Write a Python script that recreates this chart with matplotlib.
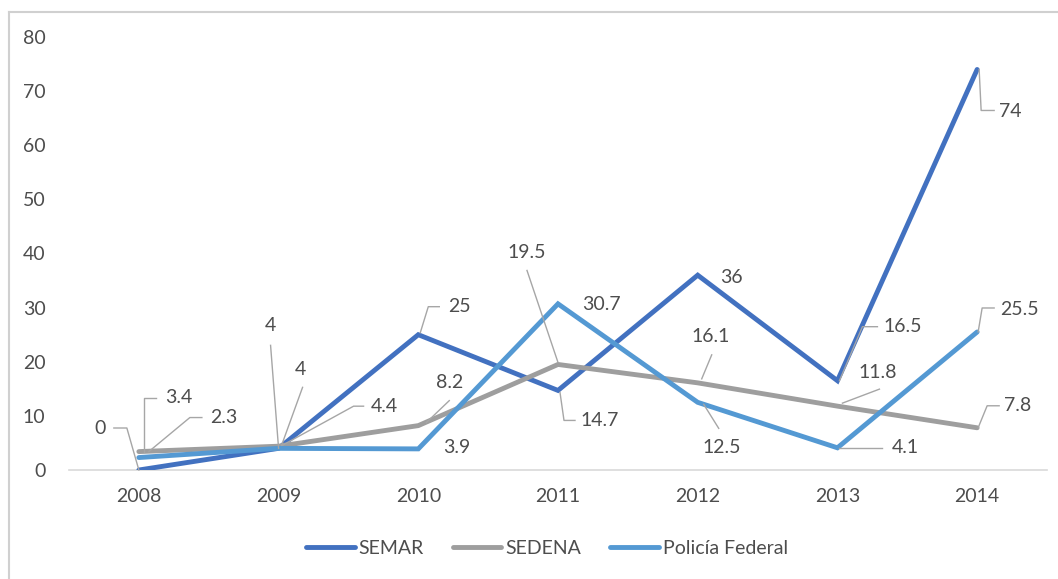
import numpy as np
import matplotlib
matplotlib.use("Agg")
import matplotlib.pyplot as plt
from matplotlib.lines import Line2D
from matplotlib.transforms import IdentityTransform

plt.rcParams['font.family'] = ['Lato', 'DejaVu Sans']

years = ['2008', '2009', '2010', '2011', '2012', '2013', '2014']
series_names = ['SEMAR', 'SEDENA', 'Policía Federal']
semar = [0, 4, 25, 14.7, 36, 16.5, 74]
sedena = [3.4, 4.4, 8.2, 19.5, 16.1, 11.8, 7.8]
policia = [2.3, 4, 3.9, 30.7, 12.5, 4.1, 25.5]
yticks = [0, 10, 20, 30, 40, 50, 60, 70, 80]

colors = ['#4271C0', '#9E9E9E', '#5499D3']
text_color = '#4D4D4D'
leader_color = '#A6A6A6'

# label placement, in image pixels (y down) relative to the point:
# (text offset, leader vertices)
label_layout = {
    (0, 0): ((-39, -42), [(0, 0), (-12, -42), (-25, -42)]),
    (0, 1): ((-8, -123), [(0, 0), (-8, -103)]),
    (0, 2): ((41, -28), [(2, -2), (10, -28), (21, -28)]),
    (0, 3): ((42, 30), [(2, 2), (6, 30), (17, 30)]),
    (0, 4): ((34, 2), None),
    (0, 5): ((65, -54), [(2, 0), (25, -54), (40, -54)]),
    (0, 6): ((33, 42), [(2, 0), (4, 41), (17, 41)]),
    (1, 0): ((40, -54), [(5, 0), (5, -54), (17, -54)]),
    (1, 1): ((106, -40), [(4, -1), (75, -40), (85, -40)]),
    (1, 2): ((31, -43), [(8, -3), (31, -25)]),
    (1, 3): ((-31, -112), [(0, -2), (-31, -94)]),
    (1, 4): ((13, -46), [(4, -4), (14, -28)]),
    (1, 5): ((40, -34), [(5, -3), (42, -17)]),
    (1, 6): ((40, -22), [(1, 0), (10, -22), (22, -22)]),
    (2, 0): ((85, -40), [(10, -6), (51, -40), (63, -40)]),
    (2, 1): ((22, -79), [(3, -3), (24, -61)]),
    (2, 2): ((38, -1), None),
    (2, 3): ((43, 1), None),
    (2, 4): ((24, 45), [(6, 2), (21, 26)]),
    (2, 5): ((68, 0), [(2, 0), (45, 0)]),
    (2, 6): ((42, -22), [(1, 0), (5, -24), (17, -24)]),
}

fig = plt.figure(figsize=(10.58, 5.79), dpi=100)
ax = fig.add_axes([69 / 1058, 1 - 470 / 579, (1047 - 69) / 1058, (470 - 37) / 579])

x = np.arange(len(years))
all_series = [semar, sedena, policia]
for name, vals, c in zip(series_names, all_series, colors):
    ax.plot(x, vals, color=c, lw=3.5, label=name, solid_capstyle='round',
            solid_joinstyle='miter', zorder=3)

ax.set_xlim(-0.5, len(years) - 0.5)
ax.set_ylim(0, 80)
ax.set_yticks(yticks)
ax.set_xticks(x)
ax.set_xticklabels(years)
ax.tick_params(axis='both', length=0, labelsize=14, colors=text_color)
ax.tick_params(axis='y', pad=17)
ax.tick_params(axis='x', pad=13)
for s in ['top', 'right', 'left']:
    ax.spines[s].set_visible(False)
ax.spines['bottom'].set_color('#D9D9D9')
ax.spines['bottom'].set_linewidth(1.2)

# data labels with leader lines
for (si, yi), (toff, leader) in label_layout.items():
    val = all_series[si][yi]
    px, py = ax.transData.transform((x[yi], val))
    if leader:
        xs = [px + dx for dx, dy in leader]
        ys = [py - dy for dx, dy in leader]
        fig.add_artist(Line2D(xs, ys, transform=IdentityTransform(),
                              color=leader_color, lw=1.0, zorder=4))
    ax.annotate(f"{val:g}", xy=(x[yi], val), xytext=(toff[0], -toff[1]),
                textcoords='offset pixels', ha='center', va='center',
                fontsize=14, color=text_color, zorder=5)

leg = fig.legend(loc='center', bbox_to_anchor=(547 / 1058, 1 - 548 / 579), ncol=3,
                 frameon=False, fontsize=14, handlelength=2.5, handletextpad=0.2,
                 columnspacing=1.5)
for t in leg.get_texts():
    t.set_color(text_color)

# outer chart border (top and left visible)
fig.add_artist(Line2D([9 / 1058, 1], [1 - 12 / 579, 1 - 12 / 579],
                      transform=fig.transFigure, color='#D0D0D0', lw=1.5))
fig.add_artist(Line2D([9 / 1058, 9 / 1058], [0, 1 - 12 / 579],
                      transform=fig.transFigure, color='#D0D0D0', lw=1.5))

fig.savefig('out.png', dpi=100)
